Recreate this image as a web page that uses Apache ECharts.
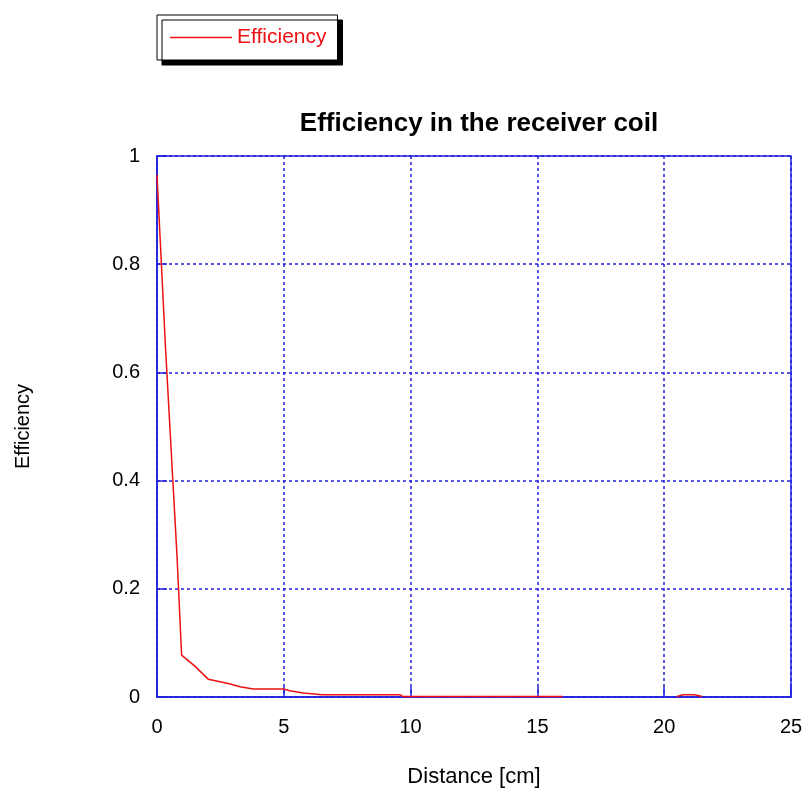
<!DOCTYPE html>
<html><head><meta charset="utf-8">
<script src="https://cdn.jsdelivr.net/npm/echarts@6/dist/echarts.min.js"></script>
<style>html,body{margin:0;padding:0;background:#fff}#c{width:806px;height:793px}</style>
</head><body><div id="c"></div>
<script>
// Distance [cm]
const distSegA = [0, 0.34, 0.79, 0.97, 1.47, 2.02, 2.35, 2.88, 3.27, 3.8, 4.98, 5.24, 5.77, 6.5, 9.58, 9.7, 16.0];
const effSegA  = [0.965, 0.642, 0.26, 0.0775, 0.058, 0.033, 0.0295, 0.024, 0.019, 0.0148, 0.0148, 0.0117, 0.0074, 0.0043, 0.0043, 0.0008, 0.0008];
const distSegB = [20.5, 20.75, 21.2, 21.5];
const effSegB  = [0.0008, 0.0043, 0.0043, 0.0008];
const xTicks = [0, 5, 10, 15, 20, 25];
const yTicks = [0, 0.2, 0.4, 0.6, 0.8, 1];

const data = [];
distSegA.forEach((d, i) => data.push([d, effSegA[i]]));
data.push([18, null]);
distSegB.forEach((d, i) => data.push([d, effSegB[i]]));

const blue = '#2222dd';
const red = '#ee1111';
const font = 'Liberation Sans, Arial, sans-serif';
const chart = echarts.init(document.getElementById('c'));
chart.setOption({
  animation: false,
  title: {
    text: 'Efficiency in the receiver coil',
    left: 474, top: 106, textAlign: 'center',
    textStyle: {fontFamily: font, fontSize: 26, fontWeight: 'bold', color: '#000'}
  },
  legend: {
    left: 157, top: 15,
    padding: [12, 11, 12, 13],
    itemWidth: 62, itemHeight: 1.5, itemGap: 4,
    backgroundColor: '#fff', borderColor: '#000', borderWidth: 1,
    shadowColor: '#000', shadowOffsetX: 5, shadowOffsetY: 5, shadowBlur: 0,
    textStyle: {fontFamily: font, fontSize: 21, color: red},
    data: [{name: 'Efficiency', icon: 'rect', itemStyle: {color: red, borderWidth: 0}}]
  },
  grid: {left: 157, right: 15, top: 156, bottom: 95, show: true, borderColor: blue, borderWidth: 1.5},
  xAxis: {
    type: 'value', min: xTicks[0], max: xTicks[xTicks.length - 1], interval: 5,
    name: 'Distance [cm]', nameLocation: 'middle', nameGap: 69,
    nameTextStyle: {fontFamily: font, fontSize: 22, color: '#000'},
    axisLine: {show: true, lineStyle: {color: blue, width: 1.5}},
    axisTick: {show: true, inside: true, length: 10, lineStyle: {color: blue, width: 1.5}},
    axisLabel: {fontFamily: font, fontSize: 20, color: '#000', margin: 20},
    splitLine: {show: true, lineStyle: {color: blue, type: [3, 3], width: 1.5}}
  },
  yAxis: {
    type: 'value', min: yTicks[0], max: yTicks[yTicks.length - 1], interval: 0.2,
    name: 'Efficiency', nameLocation: 'middle', nameGap: 124, nameRotate: 90,
    nameTextStyle: {fontFamily: font, fontSize: 20, color: '#000'},
    axisLine: {show: true, lineStyle: {color: blue, width: 1.5}},
    axisTick: {show: true, inside: true, length: 10, lineStyle: {color: blue, width: 1.5}},
    axisLabel: {fontFamily: font, fontSize: 20, color: '#000', margin: 17,
      formatter: v => String(Math.round(v * 10) / 10)},
    splitLine: {show: true, lineStyle: {color: blue, type: [3, 3], width: 1.5}}
  },
  series: [{
    name: 'Efficiency', type: 'line', data: data,
    symbol: 'none', connectNulls: false,
    lineStyle: {color: red, width: 1.5},
    itemStyle: {color: red}
  }]
});
</script></body></html>
